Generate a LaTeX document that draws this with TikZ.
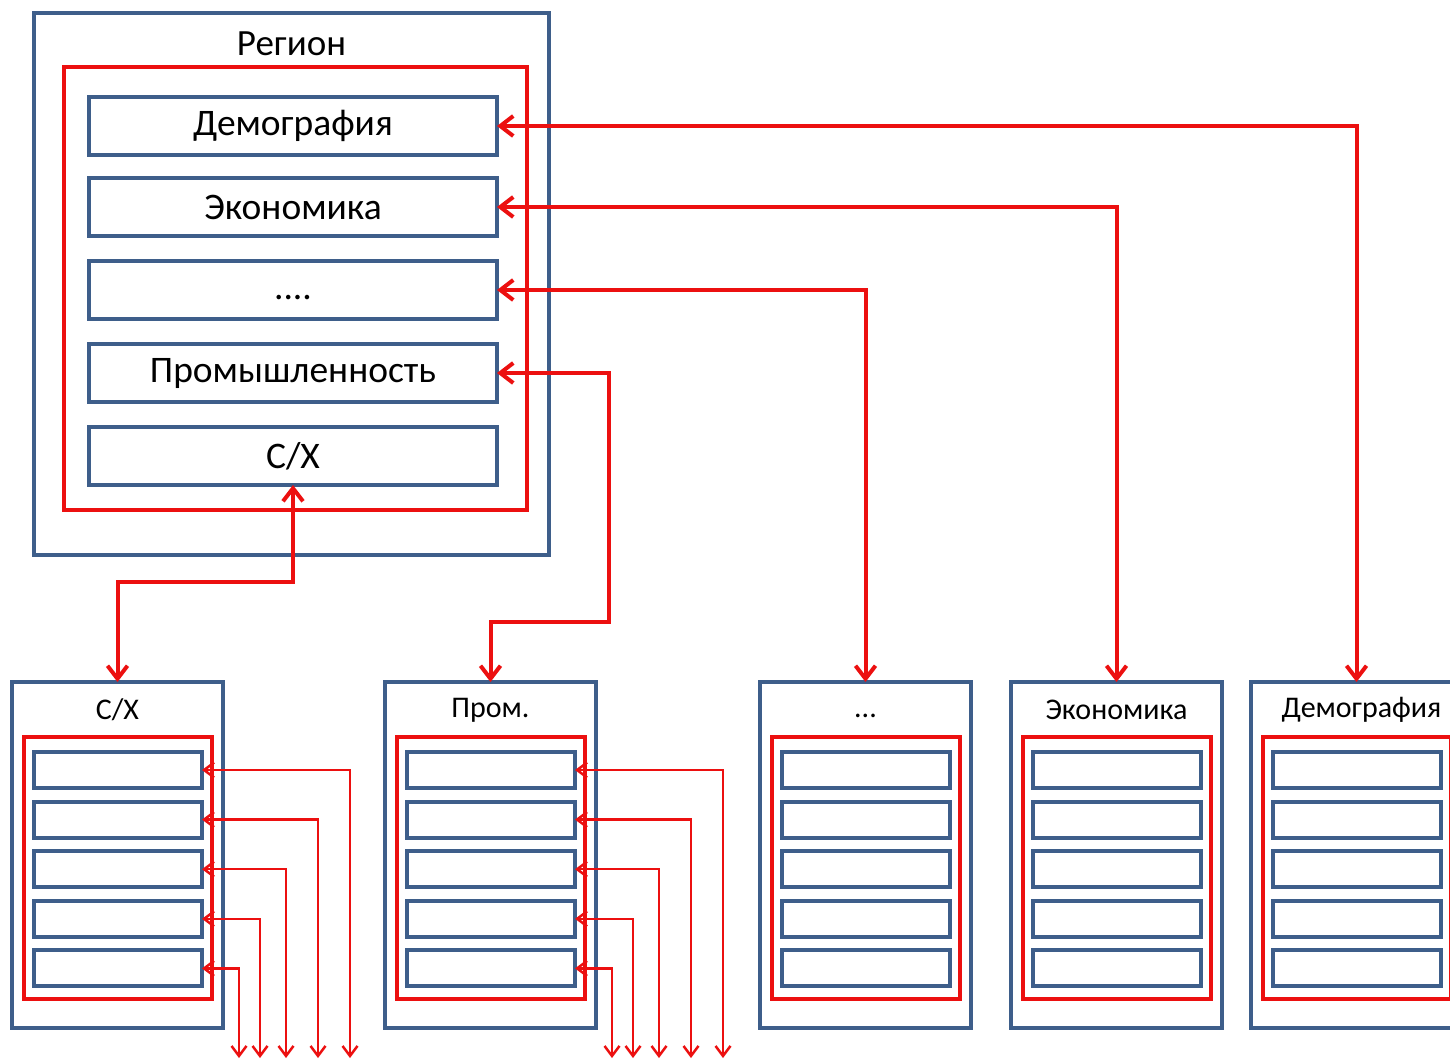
\documentclass[tikz,border=0pt]{standalone}
\usepackage{fontspec}
\setmainfont{Carlito}
\usetikzlibrary{arrows.meta,positioning,calc}
\definecolor{frameblue}{RGB}{62,94,138}
\definecolor{linkred}{RGB}{236,16,16}
\begin{document}
\begin{tikzpicture}[x=1pt,y=-1pt]
  \tikzstyle{bluebox}=[draw=frameblue, line width=4pt, fill=white, anchor=north west, inner sep=0pt, outer sep=0pt]
  \tikzstyle{redbox}=[draw=linkred, line width=4pt, anchor=north west, inner sep=0pt, outer sep=0pt]
  \tikzstyle{topitem}=[draw=frameblue, line width=4pt, fill=white, anchor=north west, inner sep=0pt, outer sep=0pt, minimum width=408pt, minimum height=58pt, font=\fontsize{37.5}{37.5}\selectfont]
  \tikzstyle{subitem}=[draw=frameblue, line width=4pt, anchor=north west, inner sep=0pt, outer sep=0pt, minimum width=168pt, minimum height=36pt]
  \tikzstyle{toptitle}=[font=\fontsize{37}{37}\selectfont, inner sep=0pt]
  \tikzstyle{modtitle}=[font=\fontsize{30}{30}\selectfont, inner sep=0pt]
  \tikzstyle{dlink}=[draw=linkred, line width=4pt, {Straight Barb[length=13pt,width=20pt]}-{Straight Barb[length=13pt,width=20pt]}]
  \tikzstyle{sublink}=[draw=linkred, line width=2.5pt, {Straight Barb[length=10pt,width=15pt]}-{Straight Barb[length=10pt,width=15pt]}]
  \path [use as bounding box, clip] (0,0) rectangle (1450,1061);

  % region block
  \node [bluebox, minimum width=515pt, minimum height=542pt] (region) at (34,13) {};
  \node [toptitle] (regiontitle) at ($(region.north)+(0,31)$) {Регион};
  \node [redbox, minimum width=463pt, minimum height=443pt] (regionset) at (64,67) {};
  \node [topitem] (demo) at (89,97) {Демография};
  \node [topitem] (econ) at (89,178) {Экономика};
  \node [topitem] (etc) at (89,261) {\vphantom{Пу}....};
  \node [topitem] (prom) at (89,344) {Промышленность};
  \node [topitem] (cx) at (89,427) {С/Х};

  % modules
  \node [bluebox, minimum width=211pt, minimum height=346pt] (mCX) at (12,682) {};
  \node [bluebox, minimum width=211pt, minimum height=346pt] (mProm) at (385,682) {};
  \node [bluebox, minimum width=211pt, minimum height=346pt] (mEtc) at (760,682) {};
  \node [bluebox, minimum width=211pt, minimum height=346pt] (mEcon) at (1011,682) {};
  \node [bluebox, minimum width=211pt, minimum height=346pt] (mDemo) at (1251,682) {};
  \node [modtitle] (tCX) at ($(mCX.north)+(0,28)$) {С/Х};
  \node [modtitle] (tProm) at ($(mProm.north)+(0,28)$) {Пром.};
  \node [modtitle] (tEtc) at ($(mEtc.north)+(0,28)$) {\vphantom{Пу}...};
  \node [modtitle] (tEcon) at ($(mEcon.north)+(0,28)$) {Экономика};
  \node [modtitle] (tDemo) at ($(mDemo.north)+(5,28)$) {Демография};
  \foreach \m in {mCX,mProm,mEtc,mEcon,mDemo} {
    \node [redbox, minimum width=188pt, minimum height=262pt] (\m set) at ($(\m.north west)+(12,55)$) {};
    \foreach \i in {1,...,5}
      \node [subitem] (\m\i) at ($(\m.north west)+(22,{70+49.6*(\i-1)})$) {};
  }

  % links region <-> modules
  \draw [dlink] (demo.east) -| (mDemo.north);
  \draw [dlink] (econ.east) -| (mEcon.north);
  \draw [dlink] (etc.east) -| (mEtc.north);
  \coordinate (promturn) at (609,622);
  \draw [dlink] (prom.east) -| (promturn) -| (mProm.north);
  \coordinate (cxturn) at ($(cx.south)+(0,97)$);
  \draw [dlink] (cx.south) -- (cxturn) -| (mCX.north);

  % links out of modules
  \foreach \i/\dx in {1/338,2/306,3/274,4/248,5/227} {
    \coordinate (cxout\i) at ($(mCX.north west)+(\dx,376)$);
    \draw [sublink] (mCX\i.east) -| (cxout\i);
    \coordinate (promout\i) at ($(mProm.north west)+(\dx,376)$);
    \draw [sublink] (mProm\i.east) -| (promout\i);
  }
\end{tikzpicture}
\end{document}
